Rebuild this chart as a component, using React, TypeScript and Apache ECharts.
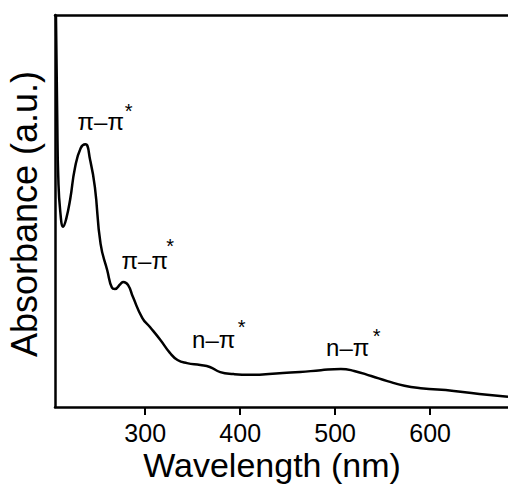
import React, { useEffect, useRef } from 'react';
import * as echarts from 'echarts';

// Wavelength (nm) and absorbance (a.u.)
const wavelength = [206, 207.4, 208.4, 210.5, 213.7, 216.8, 221, 226, 232, 237, 242, 247, 253, 260, 265, 268, 274, 277, 282, 287, 297, 305, 316, 326, 334, 344, 358, 368, 379, 393, 410, 445, 463, 485, 506, 520, 538, 555, 573, 590, 625, 660, 682];
const absorbance = [1.0, 0.73, 0.59, 0.5, 0.46, 0.48, 0.53, 0.61, 0.66, 0.67, 0.63, 0.561, 0.416, 0.349, 0.304, 0.301, 0.314, 0.319, 0.311, 0.281, 0.227, 0.204, 0.171, 0.138, 0.12, 0.112, 0.107, 0.102, 0.089, 0.084, 0.082, 0.087, 0.089, 0.094, 0.097, 0.092, 0.079, 0.066, 0.054, 0.048, 0.041, 0.031, 0.026];

const xTicks = [300, 400, 500, 600];
const xRange = [205, 682];

// Band annotations (label text, label anchor in data coordinates, star anchor)
const annoText = ['π–π', 'π–π', 'n–π', 'n–π'];
const annoPos = [[253.2, 0.728], [299.5, 0.374], [372.1, 0.173], [513.2, 0.152]];
const starPos = [[282.6, 0.756], [326.3, 0.411], [401.6, 0.204], [543.7, 0.18]];

const FONT = '"Liberation Sans", Arial, sans-serif';

export default function App() {
  const ref = useRef<HTMLDivElement>(null);
  useEffect(() => {
    if (!ref.current) return;
    const chart = echarts.init(ref.current, undefined, { renderer: 'svg' });
    const lineData = wavelength.map((w, i) => [w, absorbance[i]]);
    const textSeries = (data: number[][], fmt: (i: number) => string, size: number) => ({
      type: 'scatter',
      data,
      symbolSize: 1,
      silent: true,
      itemStyle: { opacity: 0 },
      label: {
        show: true,
        position: 'inside',
        formatter: (p: any) => fmt(p.dataIndex),
        color: '#000',
        opacity: 1,
        textBorderWidth: 0,
        fontSize: size,
        fontFamily: FONT,
      },
    });
    chart.setOption({
      animation: false,
      backgroundColor: '#ffffff',
      grid: { left: 55, right: 0, top: 15, bottom: 80, containLabel: false, outerBoundsMode: 'none' },
      xAxis: [
        {
          type: 'value',
          min: xRange[0],
          max: xRange[1],
          position: 'bottom',
          axisLine: { show: true, lineStyle: { color: '#000', width: 2.5 } },
          axisTick: { show: true, inside: false, length: 8, lineStyle: { color: '#000', width: 2 }, customValues: xTicks },
          axisLabel: { show: true, customValues: xTicks, color: '#000', fontSize: 25, fontFamily: FONT, margin: 13 },
          splitLine: { show: false },
        },
        {
          type: 'value',
          min: xRange[0],
          max: xRange[1],
          position: 'top',
          axisLine: { show: true, onZero: false, lineStyle: { color: '#000', width: 2.5 } },
          axisTick: { show: false },
          axisLabel: { show: false },
          splitLine: { show: false },
        },
      ],
      yAxis: {
        type: 'value',
        min: 0,
        max: 1,
        axisLine: { show: true, lineStyle: { color: '#000', width: 2.5 } },
        axisTick: { show: false },
        axisLabel: { show: false },
        splitLine: { show: false },
      },
      series: [
        {
          type: 'line',
          data: lineData,
          showSymbol: false,
          smooth: 0.5,
          lineStyle: { color: '#000', width: 2.5 },
        },
        textSeries(annoPos, (i) => annoText[i], 24),
        textSeries(starPos, () => '*', 20),
      ],
      graphic: [
        {
          type: 'text',
          x: 272,
          y: 465,
          style: { text: 'Wavelength (nm)', align: 'center', verticalAlign: 'middle', fontSize: 34, fontFamily: FONT, fill: '#000' },
        },
        {
          type: 'text',
          x: 24.5,
          y: 214,
          rotation: Math.PI / 2,
          style: { text: 'Absorbance (a.u.)', align: 'center', verticalAlign: 'middle', fontSize: 36, fontFamily: FONT, fill: '#000' },
        },
      ],
    });
    return () => chart.dispose();
  }, []);
  return <div ref={ref} style={{ position: 'fixed', left: 0, top: 0, width: 508, height: 487, background: '#fff' }} />;
}
